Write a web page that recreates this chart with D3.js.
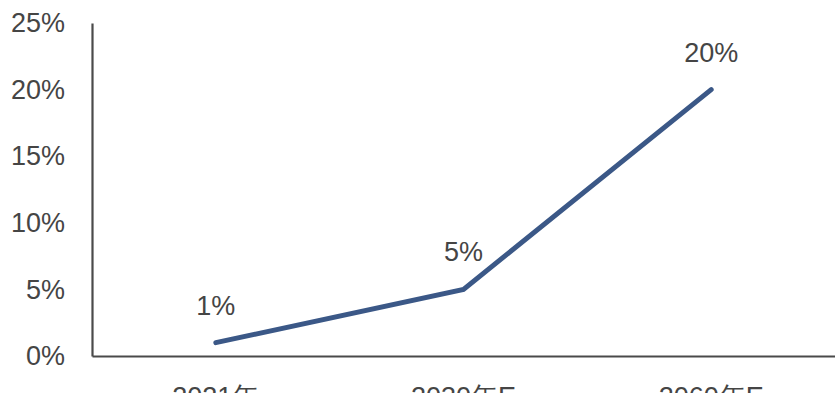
<!DOCTYPE html>
<html>
<head>
<meta charset="utf-8">
<script src="https://cdn.jsdelivr.net/npm/d3@7/dist/d3.min.js"></script>
<style>
  html, body { margin: 0; padding: 0; background: #fff; overflow: hidden; }
  svg { display: block; }
  text { font-family: "Liberation Sans", Arial, Helvetica, sans-serif; }
</style>
</head>
<body>
<svg id="chart" width="835" height="399"></svg>
<script>
const categories = ["2021年", "2030年E", "2060年E"];
const values = [1, 5, 20];
const valueLabels = ["1%", "5%", "20%"];
const yTicks = [0, 5, 10, 15, 20, 25];

const W = 835, H = 399;
const margin = { top: 23, right: 0, bottom: 43, left: 92 };

const svg = d3.select("#chart");

const x = d3.scaleBand()
  .domain(categories)
  .range([margin.left, W - margin.right])
  .paddingInner(0).paddingOuter(0);

const y = d3.scaleLinear()
  .domain([0, 25])
  .range([H - margin.bottom, margin.top]);

const textColor = "#454545";
const axisColor = "#4a4a4a";
const fontSize = 27;

// the canvas ends just below the category labels
svg.append("defs").append("clipPath")
  .attr("id", "frame")
  .append("rect")
  .attr("x", 0).attr("y", 0)
  .attr("width", W).attr("height", 393);

// y axis: line plus percentage labels
const yAxis = d3.axisLeft(y)
  .tickValues(yTicks)
  .tickFormat(d => d + "%")
  .tickSize(0)
  .tickPadding(27);

const gy = svg.append("g")
  .attr("transform", `translate(${margin.left},0)`)
  .call(yAxis);
gy.select(".domain").attr("stroke", axisColor).attr("stroke-width", 2.2);
gy.selectAll("text")
  .attr("fill", textColor)
  .style("font-size", fontSize + "px");

// x axis
const xAxis = d3.axisBottom(x).tickSize(0).tickPadding(31);
const gxWrap = svg.append("g").attr("clip-path", "url(#frame)");
const gx = gxWrap.append("g")
  .attr("transform", `translate(0,${H - margin.bottom})`)
  .call(xAxis);
gx.select(".domain").attr("stroke", axisColor).attr("stroke-width", 2.2);
gx.selectAll("text")
  .attr("fill", textColor)
  .style("font-size", fontSize + "px");

// series line
const line = d3.line()
  .x((d, i) => x(categories[i]) + x.bandwidth() / 2)
  .y(d => y(d));

svg.append("path")
  .datum(values)
  .attr("fill", "none")
  .attr("stroke", "#3b5887")
  .attr("stroke-width", 5)
  .attr("stroke-linejoin", "miter")
  .attr("stroke-linecap", "round")
  .attr("d", line);

// value labels above each point
svg.append("g")
  .selectAll("text")
  .data(values)
  .join("text")
  .attr("x", (d, i) => x(categories[i]) + x.bandwidth() / 2)
  .attr("y", d => y(d) - 28)
  .attr("text-anchor", "middle")
  .attr("fill", textColor)
  .style("font-size", fontSize + "px")
  .text((d, i) => valueLabels[i]);
</script>
</body>
</html>
